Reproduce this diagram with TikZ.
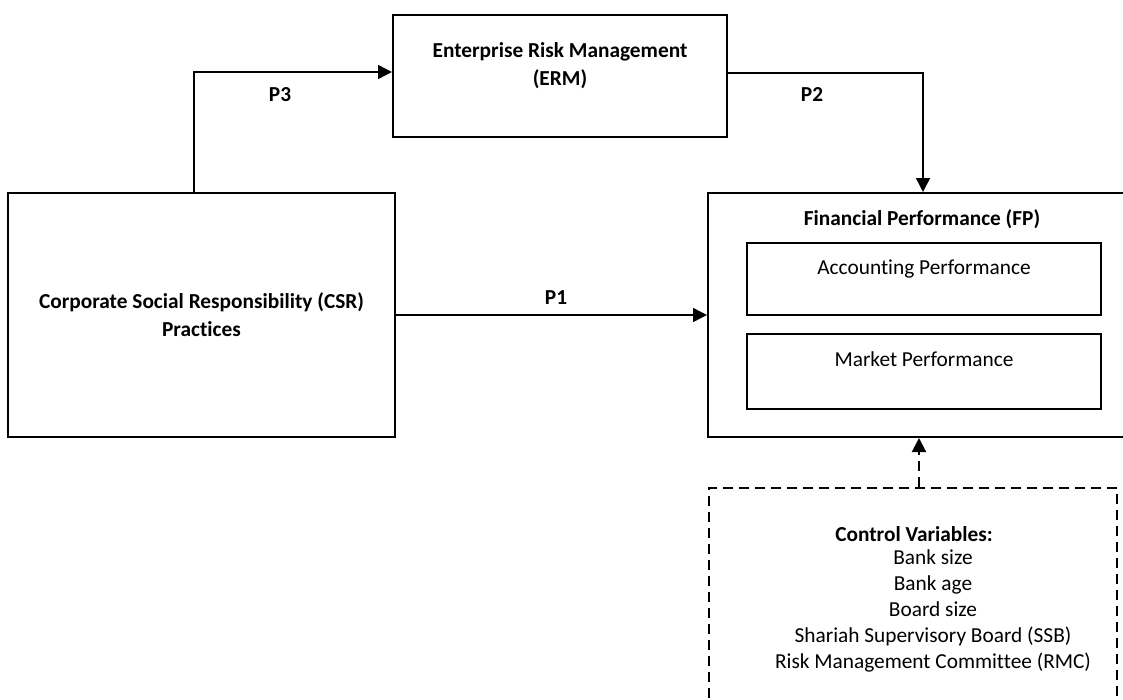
\documentclass[tikz,border=0pt]{standalone}
\usepackage{fontspec}
\setmainfont{Carlito}[Ligatures=NoCommon]
\usetikzlibrary{positioning}
\usetikzlibrary{arrows.meta}

\begin{document}
\begin{tikzpicture}[x=0.75pt,y=-0.75pt,>={Triangle[length=10.5pt,width=10.5pt]},line join=miter,
    font=\fontsize{16pt}{21pt}\selectfont,
    box/.style={rectangle,draw,line width=1.5pt,align=center,inner sep=0pt},
    subbox/.style={rectangle,draw,line width=1.2pt,align=center,inner sep=0pt,
        minimum width=265.5pt,text depth=18pt},
    ctrlbox/.style={rectangle,draw,line width=1.5pt,dash pattern=on 7.5pt off 4.5pt,inner sep=0pt},
    link/.style={color=black,line width=1.1pt},
    plabel/.style={font=\fontsize{16pt}{19.5pt}\selectfont\bfseries}]
            \useasboundingbox (0,0) rectangle (1123,699);
            %
            \node (csr) at (201.5,315) [box,minimum width=290.25pt,minimum height=183pt] {\textbf{Corporate Social Responsibility (CSR)}\\\textbf{Practices}};
            \node (erm) at (560,76) [box,minimum width=250.5pt,minimum height=91.5pt,text depth=18.5pt] {\textbf{Enterprise Risk Management}\\\textbf{(ERM)}};
            \node (fp) at (917,315) [box,minimum width=313.5pt,minimum height=183pt] {};
            \node (fptitle) at (922,219) {\textbf{Financial Performance (FP)}};
            \node (acc) at (924,279) [subbox,minimum height=54pt] {Accounting Performance};
            \node (mkt) at (924,371.5) [subbox,minimum height=56.25pt] {Market Performance};
            %
            \node (ctrl) at (913,604) [ctrlbox,minimum width=306pt,minimum height=174pt] {};
            \node (ctrltitle) at (914,534) {\textbf{Control Variables:}};
            \node[align=center,font=\fontsize{16pt}{19.5pt}\selectfont] (ctrllist) at (933,611) {Bank size\\Bank age\\Board size\\Shariah Supervisory Board (SSB)\\Risk Management Committee (RMC)};
            %
            \node (p1) at (556,298) [plabel] {P1};
            \node (p2) at (812,95) [plabel] {P2};
            \node (p3) at (280,95) [plabel] {P3};
            %
            \draw [link,->] (csr) to (fp);
            \draw [link,->] ([xshift=-5.6pt]csr.north) |- ([yshift=3pt]erm.west);
            \draw [link,->] ([yshift=2.25pt]erm.east) -| ([xshift=4.5pt]fp.north);
            \draw [link,line width=1.5pt,dash pattern=on 7.5pt off 4.5pt,->] ([xshift=4.5pt]ctrl.north) -- ([xshift=1.5pt]fp.south);
            %
        \end{tikzpicture}
\end{document}
